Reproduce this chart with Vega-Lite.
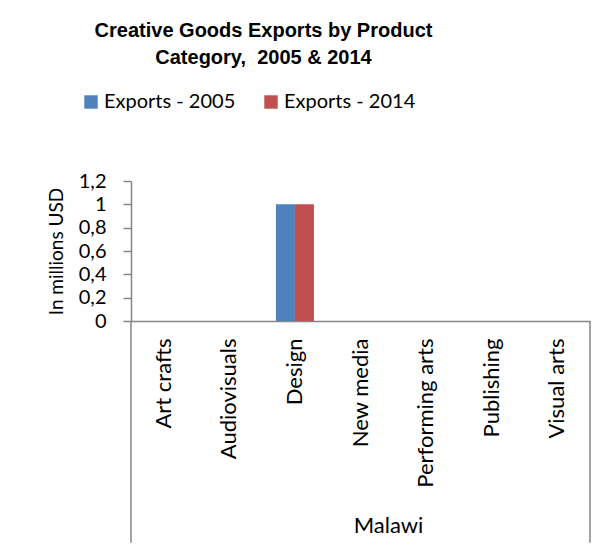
{
  "$schema": "https://vega.github.io/schema/vega-lite/v6.json",
  "width": 459,
  "height": 140,
  "autosize": {"type": "none"},
  "padding": {"left": 131, "top": 181, "right": 25, "bottom": 230},
  "background": "white",
  "title": {
    "text": ["Creative Goods Exports by Product", "Category, \u00a02005 & 2014"],
    "anchor": "middle",
    "dx": -97,
    "offset": 24,
    "font": "Liberation Sans",
    "fontSize": 20,
    "fontWeight": "bold",
    "color": "black",
    "lineHeight": 27
  },
  "config": {
    "view": {"stroke": null},
    "axis": {"grid": false, "labelColor": "black", "titleColor": "black", "labelFont": "Lato", "titleFont": "Lato", "titleFontWeight": "normal"},
    "axisY": {
      "titleFontSize": 19,
      "titlePadding": 12,
      "labelFontSize": 20,
      "labelPadding": 17,
      "labelOverlap": false,
      "tickSize": 8,
      "tickColor": "#868686",
      "tickWidth": 1.5,
      "domainColor": "#868686",
      "domainWidth": 1.5
    },
    "axisX": {
      "labelAngle": -90,
      "ticks": false,
      "labelPadding": 17,
      "labelFontSize": 22,
      "labelOverlap": false,
      "domainColor": "#868686",
      "domainWidth": 1.5,
      "titleFontSize": 22,
      "titlePadding": 28,
      "titleX": 257
    }
  },
  "layer": [
    {
      "data": {
        "values": [
          {"category": "Art crafts", "series": "Exports - 2005", "value": 0},
          {"category": "Art crafts", "series": "Exports - 2014", "value": 0},
          {"category": "Audiovisuals", "series": "Exports - 2005", "value": 0},
          {"category": "Audiovisuals", "series": "Exports - 2014", "value": 0},
          {"category": "Design", "series": "Exports - 2005", "value": 1},
          {"category": "Design", "series": "Exports - 2014", "value": 1},
          {"category": "New media", "series": "Exports - 2005", "value": 0},
          {"category": "New media", "series": "Exports - 2014", "value": 0},
          {"category": "Performing arts", "series": "Exports - 2005", "value": 0},
          {"category": "Performing arts", "series": "Exports - 2014", "value": 0},
          {"category": "Publishing", "series": "Exports - 2005", "value": 0},
          {"category": "Publishing", "series": "Exports - 2014", "value": 0},
          {"category": "Visual arts", "series": "Exports - 2005", "value": 0},
          {"category": "Visual arts", "series": "Exports - 2014", "value": 0}
        ]
      },
      "mark": {"type": "bar"},
      "encoding": {
        "x": {
          "field": "category",
          "type": "nominal",
          "scale": {"paddingInner": 0, "paddingOuter": 0},
          "axis": {"title": "Malawi"}
        },
        "xOffset": {
          "field": "series",
          "type": "nominal",
          "scale": {"paddingInner": 0, "paddingOuter": 0.726}
        },
        "y": {
          "field": "value",
          "type": "quantitative",
          "scale": {"domain": [0, 1.2]},
          "axis": {
            "title": "In millions USD",
            "values": [0, 0.2, 0.4, 0.6, 0.8, 1, 1.2],
            "labelExpr": "replace(format(datum.value, '~g'), '.', ',')"
          }
        },
        "color": {
          "field": "series",
          "type": "nominal",
          "scale": {"range": ["#4F81BD", "#C0504D"]},
          "legend": {
            "orient": "none",
            "legendX": -50,
            "legendY": -89,
            "direction": "horizontal",
            "title": null,
            "symbolType": "square",
            "symbolSize": 180,
            "symbolStrokeWidth": 0,
            "labelFont": "Lato",
            "labelFontSize": 20,
            "labelColor": "black",
            "labelOffset": 3,
            "columnPadding": 25
          }
        }
      }
    },
    {
      "data": {"values": [{"category": "Art crafts"}]},
      "mark": {"type": "rule", "color": "#868686", "strokeWidth": 1.5},
      "encoding": {
        "x": {"field": "category", "type": "nominal", "bandPosition": 0, "axis": {"title": "Malawi"}},
        "y": {"datum": 0, "axis": {"title": "In millions USD", "values": [0, 0.2, 0.4, 0.6, 0.8, 1, 1.2], "labelExpr": "replace(format(datum.value, '~g'), '.', ',')"}},
        "y2": {"datum": -1.9}
      }
    },
    {
      "data": {"values": [{"category": "Visual arts"}]},
      "mark": {"type": "rule", "color": "#868686", "strokeWidth": 1.5},
      "encoding": {
        "x": {"field": "category", "type": "nominal", "bandPosition": 1, "axis": {"title": "Malawi"}},
        "y": {"datum": 0, "axis": {"title": "In millions USD", "values": [0, 0.2, 0.4, 0.6, 0.8, 1, 1.2], "labelExpr": "replace(format(datum.value, '~g'), '.', ',')"}},
        "y2": {"datum": -1.9}
      }
    }
  ]
}
